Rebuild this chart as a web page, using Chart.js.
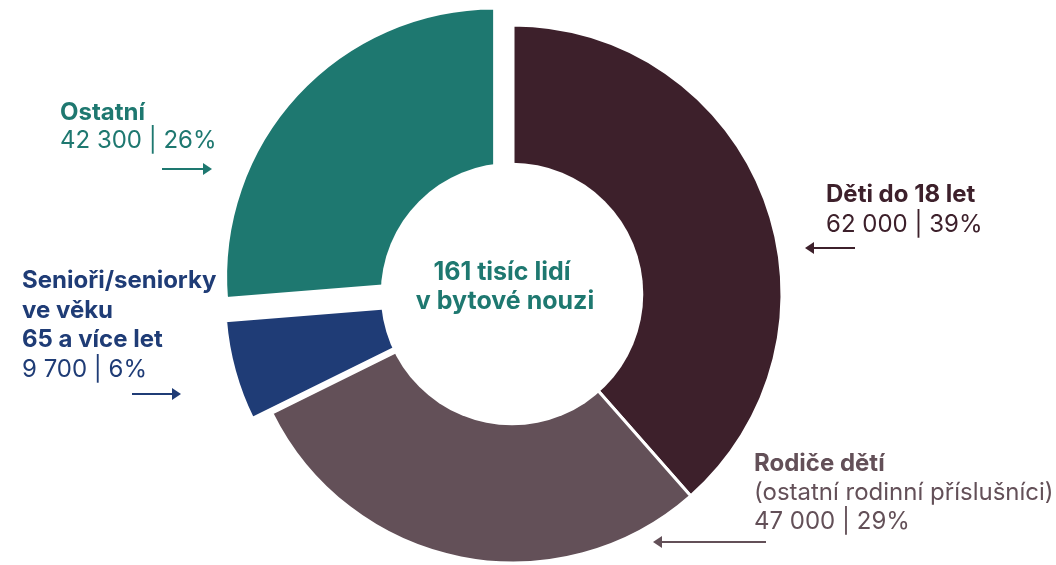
<!DOCTYPE html>
<html lang="cs">
<head>
<meta charset="utf-8">
<title>Lidé v bytové nouzi</title>
<script src="https://cdn.jsdelivr.net/npm/chart.js@4.4.1/dist/chart.umd.min.js"></script>
<style>
  html, body { margin: 0; padding: 0; background: #fff; }
  #canvas { display: block; }
</style>
</head>
<body>
<canvas id="canvas" width="1056" height="565"></canvas>
<script>
// skupiny lidí v bytové nouzi
var categories = ["Děti do 18 let", "Rodiče dětí", "Senioři/seniorky ve věku 65 a více let", "Ostatní"];
var titleLines = [
  ["Děti do 18 let"],
  ["Rodiče dětí"],
  ["Senioři/seniorky", "ve věku", "65 a více let"],
  ["Ostatní"]
];
var subLines = ["", "(ostatní rodinní příslušníci)", "", ""];
var people = [62000, 47000, 9700, 42300];
var centerLines = ["161 tisíc lidí", "v bytové nouzi"];

var colors = ["#3d202b", "#635058", "#1f3c76", "#1e7870"];
var centerColor = "#1e7870";
var FONT = "Inter, 'DejaVu Sans', sans-serif";
var fontSize = 24;
var centerFontSize = 25;

// how far each slice is pulled out from the middle (px)
var explode = [0, 0, 20, 25];
// white hole in the middle, as part of the pie radius
var holeRatio = 0.488;

// where the labels sit: first baseline, line height, arrow
var labelPos = [
  { x: 826, y: 202, lh: 30, arrow: { from: 855, to: 805, y: 248 } },
  { x: 754, y: 471, lh: 29, arrow: { from: 766, to: 653, y: 542 } },
  { x: 22, y: 288, lh: 29.7, arrow: { from: 132, to: 181, y: 394 } },
  { x: 60, y: 120, lh: 28, arrow: { from: 162, to: 212, y: 169 } }
];

var total = people.reduce(function (a, b) { return a + b; }, 0);

function fmt(n) {
  return String(n).replace(/\B(?=(\d{3})+(?!\d))/g, " ");
}

var explodePlugin = {
  id: "explode",
  afterDatasetUpdate: function (chart, args) {
    var meta = chart.getDatasetMeta(args.index);
    var first = meta.data[0];
    chart.$pieCenter = { x: first.x, y: first.y, r: first.outerRadius };
    meta.data.forEach(function (arc, i) {
      var mid = (arc.startAngle + arc.endAngle) / 2;
      arc.x += Math.cos(mid) * explode[i];
      arc.y += Math.sin(mid) * explode[i];
    });
  },
  afterDatasetsDraw: function (chart) {
    var c = chart.$pieCenter;
    var ctx = chart.ctx;
    ctx.save();
    ctx.fillStyle = "#ffffff";
    ctx.beginPath();
    ctx.arc(c.x - 1, c.y, c.r * holeRatio, 0, Math.PI * 2);
    ctx.fill();
    ctx.restore();
  }
};

function drawArrow(ctx, a, color) {
  var dir = a.to > a.from ? 1 : -1;
  ctx.strokeStyle = color;
  ctx.fillStyle = color;
  ctx.lineWidth = 2;
  ctx.beginPath();
  ctx.moveTo(a.from, a.y);
  ctx.lineTo(a.to - dir * 6, a.y);
  ctx.stroke();
  ctx.beginPath();
  ctx.moveTo(a.to, a.y);
  ctx.lineTo(a.to - dir * 9, a.y - 6);
  ctx.lineTo(a.to - dir * 9, a.y + 6);
  ctx.closePath();
  ctx.fill();
}

var labelsPlugin = {
  id: "labels",
  afterDraw: function (chart) {
    var ctx = chart.ctx;
    ctx.save();
    ctx.textBaseline = "alphabetic";
    ctx.textAlign = "left";
    people.forEach(function (v, i) {
      var p = labelPos[i];
      var y = p.y;
      ctx.fillStyle = colors[i];
      ctx.font = "bold " + fontSize + "px " + FONT;
      titleLines[i].forEach(function (t) {
        ctx.fillText(t, p.x, y);
        y += p.lh;
      });
      ctx.font = fontSize + "px " + FONT;
      if (subLines[i]) {
        ctx.fillText(subLines[i], p.x, y);
        y += p.lh;
      }
      var pct = Math.round(v / total * 100);
      ctx.fillText(fmt(v) + " | " + pct + "%", p.x, y);
      drawArrow(ctx, p.arrow, colors[i]);
    });

    // text in the hole
    var c = chart.$pieCenter;
    ctx.fillStyle = centerColor;
    ctx.textAlign = "center";
    ctx.font = "bold " + centerFontSize + "px " + FONT;
    ctx.fillText(centerLines[0], c.x - 11, 280);
    ctx.fillText(centerLines[1], c.x - 8, 309);
    ctx.restore();
  }
};

const ctx = document.getElementById("canvas").getContext("2d");

const myChart = new Chart(ctx, {
  type: "doughnut",
  data: {
    labels: categories,
    datasets: [
      {
        data: people,
        backgroundColor: colors,
        borderColor: "#ffffff",
        borderWidth: 3,
        clip: false,
      },
    ],
  },
  options: {
    responsive: false,
    animation: false,
    radius: 269,
    cutout: 0,
    layout: {
      padding: { left: 0, right: 30, top: 23, bottom: 0 },
    },
    plugins: {
      legend: { display: false },
      tooltip: { enabled: false },
    },
  },
  plugins: [explodePlugin, labelsPlugin],
});
</script>
</body>
</html>
